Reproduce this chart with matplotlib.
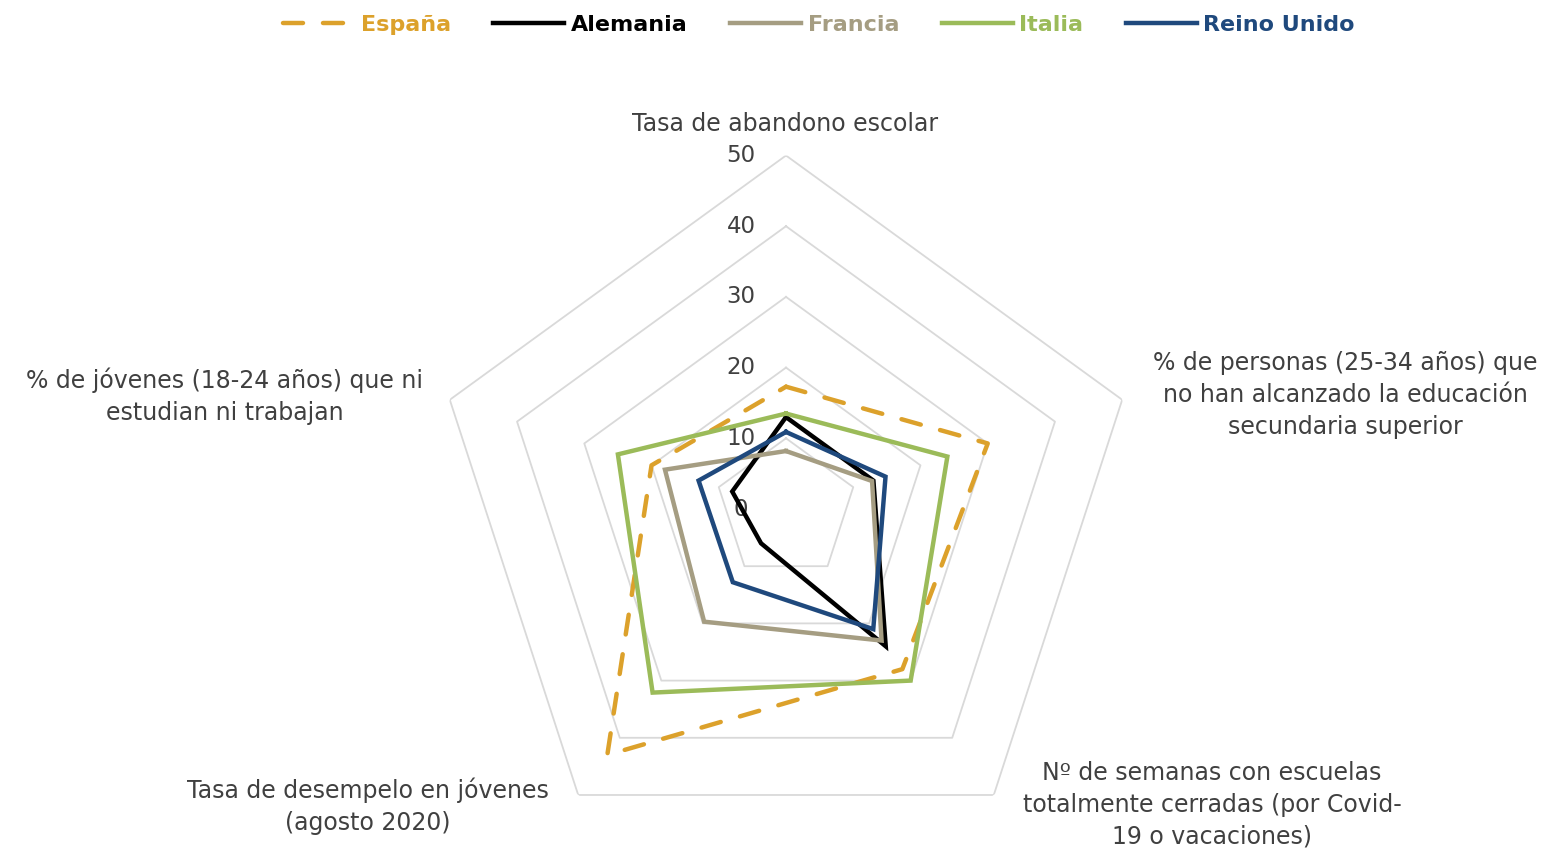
import matplotlib.pyplot as plt
import numpy as np

# Ejes del radar (en sentido horario desde arriba)
categorias = [
    "Tasa de abandono escolar",
    "% de personas (25-34 años) que\nno han alcanzado la educación\nsecundaria superior",
    "Nº de semanas con escuelas\ntotalmente cerradas (por Covid-\n19 o vacaciones)",
    "Tasa de desempelo en jóvenes\n(agosto 2020)",
    "% de jóvenes (18-24 años) que ni\nestudian ni trabajan",
]

espana = [17.3, 30, 28, 43, 20]
alemania = [13, 13, 24, 6, 8]
francia = [8.2, 12.8, 23, 19.7, 18]
italia = [13.5, 24, 30, 32.1, 25]
reino_unido = [10.9, 14.8, 21, 12.8, 13]

anillos = [0, 10, 20, 30, 40, 50]

series = [
    ("España", espana, "#DCA12B", "dashed"),
    ("Alemania", alemania, "#000000", "solid"),
    ("Francia", francia, "#A59D82", "solid"),
    ("Italia", italia, "#9BBB59", "solid"),
    ("Reino Unido", reino_unido, "#1F497D", "solid"),
]

W, H = 1560, 852
fig = plt.figure(figsize=(W / 100, H / 100), dpi=100)

# centro del radar y radio (px)
cx, cy, rad = 786, 509, 353.5
ax = fig.add_axes([(cx - rad) / W, 1 - (cy + rad) / H, 2 * rad / W, 2 * rad / H],
                  projection="polar")
ax.set_theta_offset(np.pi / 2)
ax.set_theta_direction(-1)
ax.set_ylim(0, 50)
ax.grid(False)
ax.spines["polar"].set_visible(False)
ax.set_xticks([])
ax.set_yticks([])
ax.patch.set_alpha(0)

ang = np.linspace(0, 2 * np.pi, len(categorias), endpoint=False)
ang_c = np.append(ang, ang[0])

# pentágonos de la rejilla
for r in anillos[1:]:
    ax.plot(ang_c, [r] * len(ang_c), color="#D9D9D9", lw=1.3, zorder=1)

# etiquetas de escala sobre el eje superior
for r in anillos:
    ax.annotate(str(r), xy=(0, r), xytext=(-45, 0), textcoords="offset pixels",
                ha="center", va="center", fontsize=16.5, color="#404040", zorder=2)

for nombre, vals, color, estilo in series:
    v = vals + vals[:1]
    if estilo == "dashed":
        ax.plot(ang_c, v, color=color, lw=3.2, linestyle=(0, (4.5, 4.5)),
                dash_capstyle="round", label=nombre, zorder=3)
    else:
        ax.plot(ang_c, v, color=color, lw=3.2, label=nombre, zorder=3,
                solid_joinstyle="miter")

# etiquetas de las categorías (posición en px)
pos_cat = [(785, 124), (1345, 395), (1212, 805), (368, 806), (225, 396)]
for texto, (px, py) in zip(categorias, pos_cat):
    fig.text(px / W, 1 - py / H, texto, ha="center", va="center",
             fontsize=17, color="#404040", linespacing=1.4)

leg = fig.legend(loc="upper center", bbox_to_anchor=(0.525, 1.006), ncol=5,
                 frameon=False, handlelength=3.2, handletextpad=0.3,
                 columnspacing=1.9, prop={"weight": "bold", "size": 16})
for txt, (_, _, color, _) in zip(leg.get_texts(), series):
    txt.set_color(color)

fig.savefig("out.png", dpi=100)
